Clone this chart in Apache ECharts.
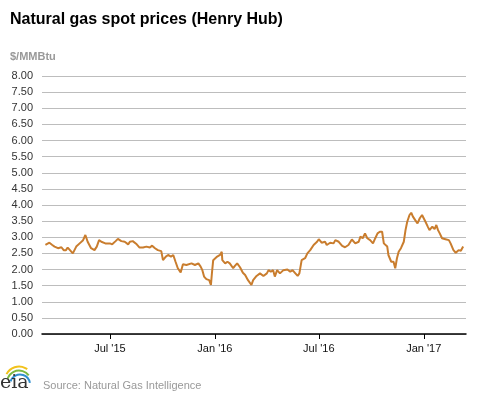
<!DOCTYPE html>
<html>
<head>
<meta charset="utf-8">
<script src="https://cdn.jsdelivr.net/npm/echarts@6/dist/echarts.min.js"></script>
<style>
html,body{margin:0;padding:0;background:#fff;}
#chart{width:477px;height:393px;}
</style>
</head>
<body>
<div id="chart"></div>
<script>
// Henry Hub spot price ($/MMBtu)
var dates = [
'2015-03-10','2015-03-12','2015-03-17','2015-03-22','2015-03-26','2015-04-01','2015-04-07','2015-04-11','2015-04-15','2015-04-18',
'2015-04-22','2015-04-27','2015-05-03','2015-05-09','2015-05-15','2015-05-19','2015-05-23','2015-05-29','2015-06-04','2015-06-08',
'2015-06-12','2015-06-16','2015-06-19','2015-06-23','2015-07-01','2015-07-05','2015-07-06','2015-07-11','2015-07-15','2015-07-21',
'2015-07-27','2015-08-02','2015-08-05','2015-08-10','2015-08-13','2015-08-17','2015-08-22','2015-08-28','2015-09-03','2015-09-09',
'2015-09-13','2015-09-18','2015-09-23','2015-09-29','2015-10-02','2015-10-07','2015-10-11','2015-10-16','2015-10-20','2015-10-24',
'2015-10-28','2015-11-02','2015-11-06','2015-11-12','2015-11-15','2015-11-21','2015-11-27','2015-12-03','2015-12-07','2015-12-10',
'2015-12-13','2015-12-17','2015-12-22','2015-12-25','2015-12-27','2015-12-29','2016-01-01','2016-01-05','2016-01-10','2016-01-13',
'2016-01-14','2016-01-19','2016-01-23','2016-01-27','2016-01-30','2016-02-02','2016-02-05','2016-02-09','2016-02-14','2016-02-19',
'2016-02-23','2016-02-28','2016-03-05','2016-03-08','2016-03-14','2016-03-20','2016-03-26','2016-04-01','2016-04-04','2016-04-08',
'2016-04-12','2016-04-15','2016-04-19','2016-04-24','2016-04-30','2016-05-03','2016-05-07','2016-05-12','2016-05-16','2016-05-21',
'2016-05-25','2016-05-28','2016-06-01','2016-06-07','2016-06-11','2016-06-16','2016-06-22','2016-06-28','2016-07-01','2016-07-06',
'2016-07-12','2016-07-15','2016-07-21','2016-07-27','2016-07-30','2016-08-05','2016-08-11','2016-08-16','2016-08-22','2016-08-28',
'2016-09-03','2016-09-09','2016-09-12','2016-09-16','2016-09-20','2016-09-24','2016-09-29','2016-10-04','2016-10-08','2016-10-12',
'2016-10-16','2016-10-20','2016-10-23','2016-10-29','2016-10-31','2016-11-05','2016-11-09','2016-11-12','2016-11-15','2016-11-18',
'2016-11-22','2016-11-27','2016-11-30','2016-12-03','2016-12-07','2016-12-10','2016-12-13','2016-12-17','2016-12-21','2016-12-25',
'2016-12-29','2017-01-01','2017-01-04','2017-01-08','2017-01-11','2017-01-16','2017-01-20','2017-01-23','2017-01-26','2017-01-29',
'2017-02-02','2017-02-05','2017-02-08','2017-02-14','2017-02-17','2017-02-22','2017-02-26','2017-03-01','2017-03-03','2017-03-07',
'2017-03-11'
];
var prices = [
2.76,2.70,2.83,2.76,2.71,2.66,2.69,2.60,2.60,2.68,
2.60,2.50,2.71,2.81,2.91,3.07,2.86,2.66,2.60,2.71,
2.91,2.86,2.91,2.81,2.81,2.78,2.74,2.88,2.95,2.88,
2.86,2.78,2.86,2.88,2.91,2.78,2.68,2.68,2.71,2.68,
2.74,2.66,2.60,2.57,2.29,2.40,2.45,2.40,2.45,2.24,
2.04,1.91,2.16,2.14,2.09,2.19,2.14,2.19,2.09,1.98,
1.78,1.70,1.67,1.52,1.93,2.29,2.35,2.40,2.45,2.55,
2.29,2.19,2.24,2.19,2.24,2.04,2.11,2.19,2.07,1.90,
1.83,1.67,1.52,1.67,1.80,1.88,1.80,1.88,1.98,1.93,
1.98,1.78,1.98,1.88,1.98,1.93,2.00,1.93,1.98,1.88,
1.80,1.88,2.29,2.35,2.50,2.60,2.76,2.86,2.94,2.83,
2.86,2.76,2.83,2.81,2.91,2.86,2.73,2.69,2.76,2.93,
2.81,2.86,3.02,2.97,3.12,2.97,2.91,2.81,2.97,3.12,
3.17,3.17,2.81,2.71,2.45,2.24,2.24,2.04,2.35,2.55,
2.66,2.86,3.22,3.48,3.69,3.76,3.64,3.53,3.43,3.59,
3.69,3.64,3.48,3.33,3.22,3.33,3.25,3.38,3.22,3.12,
2.97,3.02,2.94,2.91,2.81,2.60,2.52,2.48,2.60,2.58,
2.71
];
var tickDates = ['2015-07-01','2016-01-01','2016-07-01','2017-01-01'];
var axisStart = '2015-03-04';
var axisEnd = '2017-03-16';
var monthNames = ['Jan','Feb','Mar','Apr','May','Jun','Jul','Aug','Sep','Oct','Nov','Dec'];

function ts(s){ var p = s.split('-'); return Date.UTC(+p[0], +p[1]-1, +p[2]); }
var seriesData = dates.map(function(d,i){ return [ts(d), prices[i]]; });
var tickTs = tickDates.map(ts);

var chart = echarts.init(document.getElementById('chart'), null, {renderer:'canvas'});
chart.setOption({
  animation: false,
  backgroundColor: '#fff',
  title: [
    {text: 'Natural gas spot prices (Henry Hub)', left: 5, top: 7,
     textStyle: {fontFamily: 'Liberation Sans, Arial', fontSize: 16, fontWeight: 'bold', color: '#000'}},
    {text: '$/MMBtu', left: 5, top: 46,
     textStyle: {fontFamily: 'Liberation Sans, Arial', fontSize: 11, fontWeight: 'bold', color: '#999'}},
    {text: 'Source: Natural Gas Intelligence', left: 38, top: 375,
     textStyle: {fontFamily: 'Liberation Sans, Arial', fontSize: 11, fontWeight: 'normal', color: '#999'}}
  ],
  grid: {left: 42, right: 11, top: 76, bottom: 59, containLabel: false},
  xAxis: {
    type: 'value',
    min: ts(axisStart), max: ts(axisEnd),
    axisLine: {show: true, onZero: false, lineStyle: {color: '#000', width: 1.5}},
    axisTick: {show: true, customValues: tickTs, length: 5, lineStyle: {color: '#000', width: 1}},
    axisLabel: {
      customValues: tickTs,
      fontFamily: 'Liberation Sans, Arial', fontSize: 11, color: '#111', margin: 9,
      formatter: function(v){ var d = new Date(v); return monthNames[d.getUTCMonth()] + " '" + String(d.getUTCFullYear()).slice(2); }
    },
    splitLine: {show: false}
  },
  yAxis: {
    type: 'value', min: 0, max: 8, interval: 0.5,
    axisLine: {show: false}, axisTick: {show: false},
    axisLabel: {fontFamily: 'Liberation Sans, Arial', fontSize: 11, color: '#333', margin: 9,
      formatter: function(v){ return v.toFixed(2); }},
    splitLine: {lineStyle: {color: '#bdbdbd', width: 1}}
  },
  series: [{
    type: 'line', data: seriesData, showSymbol: false, symbol: 'none',
    lineStyle: {color: '#c97d2e', width: 2}, z: 5
  }],
  graphic: [
    {type: 'group', left: 0, top: 364, children: [
      {type: 'arc', shape: {cx: 19, cy: 20, r: 14, startAngle: Math.PI*1.15, endAngle: Math.PI*1.7}, style: {stroke: '#f2c21b', lineWidth: 2, fill: null}},
      {type: 'arc', shape: {cx: 19, cy: 22, r: 12, startAngle: Math.PI*1.1, endAngle: Math.PI*1.8}, style: {stroke: '#7cb842', lineWidth: 2, fill: null}},
      {type: 'arc', shape: {cx: 20, cy: 24, r: 10, startAngle: Math.PI*1.1, endAngle: Math.PI*1.95}, style: {stroke: '#2f8fcf', lineWidth: 2, fill: null}},
      {type: 'text', x: 0, y: 13, style: {text: 'eia', fontFamily: 'DejaVu Serif, Liberation Serif, serif', fontSize: 19, fill: '#333'}}
    ]}
  ]
});
</script>
</body>
</html>
